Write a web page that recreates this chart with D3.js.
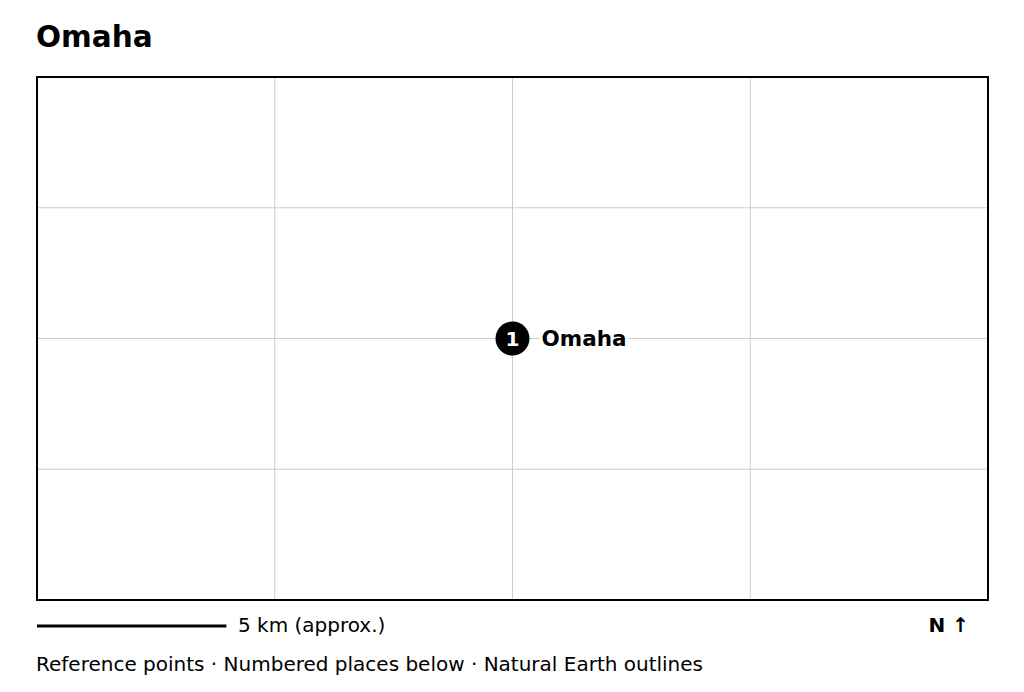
<!DOCTYPE html>
<html><head><meta charset="utf-8">
<script src="https://cdn.jsdelivr.net/npm/d3@7"></script>
<style>body{margin:0;background:#fff;font-family:"DejaVu Sans",sans-serif;}</style>
</head><body>
<script>
const title = 'Omaha';
const places = [{n: 1, name: 'Omaha', lon: -95.94, lat: 41.26}];
const lonDomain = [-96.09, -95.79];
const latDomain = [41.1775, 41.3425];
const lonGrid = [-96.015, -95.94, -95.865];
const latGrid = [41.30125, 41.26, 41.21875];
const scaleKm = 5;
const footer = 'Reference points · Numbered places below · Natural Earth outlines';

const svg = d3.select('body').append('svg').attr('width', 1024).attr('height', 692);

const x = d3.scaleLinear().domain(lonDomain).range([37, 988]);
const y = d3.scaleLinear().domain(latDomain).range([600, 77]);
const kmPerPx = (lonDomain[1] - lonDomain[0]) * 111.32 * Math.cos(41.26 * Math.PI / 180) / 951;

svg.append('text').attr('x', 36).attr('y', 47)
    .style('font-size', '29.5px').style('font-weight', 'bold').text(title);

svg.selectAll('.vg').data(lonGrid).join('line')
    .attr('x1', d => x(d)).attr('x2', d => x(d)).attr('y1', 77).attr('y2', 600)
    .attr('stroke', '#ccc').attr('stroke-width', 1);
svg.selectAll('.hg').data(latGrid).join('line')
    .attr('y1', d => y(d)).attr('y2', d => y(d)).attr('x1', 37).attr('x2', 988)
    .attr('stroke', '#ccc').attr('stroke-width', 1);

svg.append('rect').attr('x', 37).attr('y', 77).attr('width', 951).attr('height', 523)
    .attr('fill', 'none').attr('stroke', '#000').attr('stroke-width', 2);

const g = svg.selectAll('.place').data(places).join('g')
    .attr('transform', d => `translate(${x(d.lon)},${y(d.lat)})`);
g.append('text').attr('x', 29).attr('y', 7).text(d => d.name)
    .style('font-size', '21.5px').style('font-weight', 'bold')
    .attr('stroke', '#fff').attr('stroke-width', 6).attr('paint-order', 'stroke');
g.append('circle').attr('r', 17).attr('fill', '#000');
g.append('text').attr('y', 7).attr('text-anchor', 'middle').attr('fill', '#fff')
    .style('font-size', '20px').style('font-weight', 'bold').text(d => d.n);

svg.append('line').attr('x1', 37).attr('x2', 37 + scaleKm / kmPerPx).attr('y1', 626).attr('y2', 626)
    .attr('stroke', '#000').attr('stroke-width', 3);
svg.append('text').attr('x', 238).attr('y', 632).style('font-size', '20px').text(`${scaleKm} km (approx.)`);
svg.append('text').attr('x', 969).attr('y', 632).attr('text-anchor', 'end')
    .style('font-size', '20px').style('font-weight', 'bold').text('N ↑');
svg.append('text').attr('x', 36).attr('y', 671).style('font-size', '20px').text(footer);
</script>
</body></html>
